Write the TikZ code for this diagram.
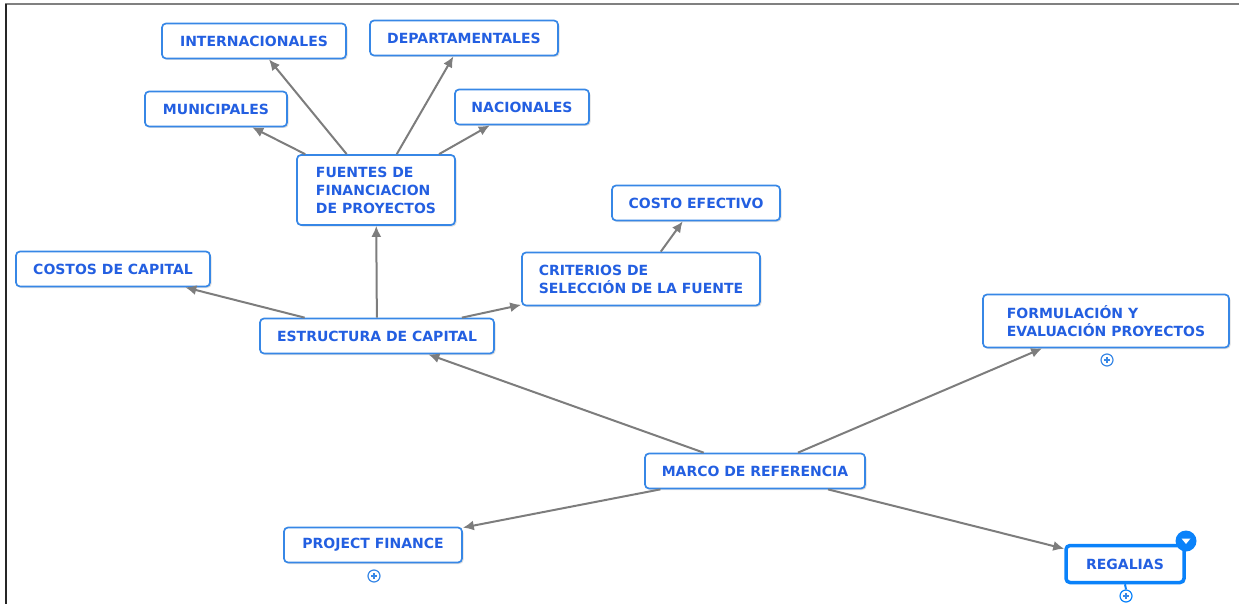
\documentclass[tikz,border=0pt]{standalone}
\usepackage{fontspec}
\setmainfont{DejaVu Sans}
\usetikzlibrary{
    arrows.meta,
    shadows
}
\definecolor{cmapblue}{RGB}{55,135,230}
\definecolor{cmaptext}{RGB}{35,95,225}
\definecolor{selblue}{RGB}{10,130,250}
\definecolor{linkgray}{RGB}{125,125,125}

\begin{document}
\begin{tikzpicture}[x=1pt,y=-1pt,
    concept/.style={draw=cmapblue, line width=1.7pt, rounded corners=4pt, fill=white,
        text=cmaptext, font=\bfseries\fontsize{14}{18}\selectfont, align=left,
        inner xsep=8pt, minimum height=35pt,
        drop shadow={opacity=0.25, shadow xshift=1.5pt, shadow yshift=-1.5pt}},
    link/.style={draw=linkgray, line width=2pt, -{Latex[length=11pt,width=10pt]}},
    expander/.style={circle, draw=cmapblue, line width=1.2pt, fill=white,
        inner sep=0pt, minimum size=12pt}
]
    \useasboundingbox (0,0) rectangle (1239,604);

    % window frame
    \draw[gray, line width=2pt] (5,4.5) -- (1239,4.5);
    \draw[black!85, line width=2pt] (5.5,4) -- (5.5,604);

    % concepts
    \node[concept, minimum width=184pt] (internacionales) at (254,41) {INTERNACIONALES};
    \node[concept, minimum width=188pt] (departamentales) at (464,38) {DEPARTAMENTALES};
    \node[concept, minimum width=142pt] (municipales) at (216,109) {MUNICIPALES};
    \node[concept, minimum width=134pt] (nacionales) at (522,107) {NACIONALES};
    \node[concept, minimum width=158pt, minimum height=70pt] (fuentes) at (376,190)
        {FUENTES DE\\FINANCIACION\\DE PROYECTOS};
    \node[concept, minimum width=168pt] (costoefectivo) at (696,203) {COSTO EFECTIVO};
    \node[concept, minimum width=194pt] (costoscapital) at (113,269) {COSTOS DE CAPITAL};
    \node[concept, minimum width=238pt, minimum height=53pt] (criterios) at (641,279)
        {CRITERIOS DE\\SELECCIÓN DE LA FUENTE};
    \node[concept, minimum width=234pt] (estructura) at (377,336) {ESTRUCTURA DE CAPITAL};
    \node[concept, minimum width=246pt, minimum height=53pt] (formulacion) at (1106,321)
        {FORMULACIÓN Y\\EVALUACIÓN PROYECTOS};
    \node[concept, minimum width=220pt] (marco) at (755,471) {MARCO DE REFERENCIA};
    \node[concept, minimum width=178pt] (projectfinance) at (373,545) {PROJECT FINANCE};
    \node[concept, draw=selblue, line width=3.5pt, minimum width=118pt, minimum height=37pt]
        (regalias) at (1125,564) {REGALIAS};

    % links
    \draw[link] (marco) -- (estructura);
    \draw[link] (marco) -- (formulacion);
    \draw[link] (marco) -- (projectfinance);
    \draw[link] (marco) -- (regalias);
    \draw[link] (estructura) -- (costoscapital);
    \draw[link] (estructura) -- (fuentes);
    \draw[link] (estructura) -- (criterios);
    \draw[link] (criterios) -- (costoefectivo);
    \draw[link] (fuentes) -- (municipales);
    \draw[link] (fuentes) -- (internacionales);
    \draw[link] (fuentes) -- (departamentales);
    \draw[link] (fuentes) -- (nacionales);

    % expand buttons
    \node[expander] (formexp) at (1107,360) {};
    \node[expander] (projexp) at (374,576) {};
    \node[expander, draw=selblue] (regexp) at (1126,596) {};
    \draw[selblue, line width=2pt] (regalias.south) -- (regexp.north);
    \foreach \e in {formexp, projexp, regexp}
        \draw[cmapblue, line width=1.6pt]
            ([xshift=-3pt]\e.center) -- ([xshift=3pt]\e.center)
            ([yshift=-3pt]\e.center) -- ([yshift=3pt]\e.center);

    % selection badge
    \node[circle, fill=selblue, inner sep=0pt, minimum size=21pt] (badge) at (1186,541) {};
    \fill[white] ([xshift=-4.5pt,yshift=2.5pt]badge.center) -- ([xshift=4.5pt,yshift=2.5pt]badge.center)
        -- ([yshift=-3pt]badge.center) -- cycle;
\end{tikzpicture}
\end{document}
